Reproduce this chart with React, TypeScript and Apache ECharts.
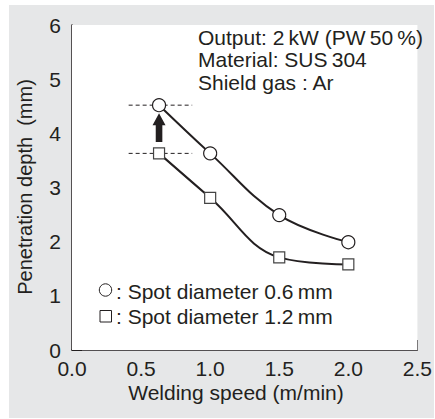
import React, { useEffect, useRef } from "react";
import * as echarts from "echarts";

const speeds = [0.63, 1.0, 1.5, 2.0];
const depthSpot06 = [4.52, 3.63, 2.49, 1.99];
const depthSpot12 = [3.63, 2.81, 1.71, 1.58];
const refLineX = [0.41, 0.87];
const arrowSpan = [0.63, 3.84, 4.37];
const xTicks = [0, 0.5, 1.0, 1.5, 2.0, 2.5];
const yTicks = [0, 1, 2, 3, 4, 5, 6];

const INK = "#231f20";
const FONT = "'Liberation Sans', Arial, Helvetica, sans-serif";

export default function App() {
  const ref = useRef<HTMLDivElement>(null);
  useEffect(() => {
    if (!ref.current) return;
    const chart = echarts.init(ref.current, undefined, { renderer: "svg" });
    const pts = (ys: number[]) => speeds.map((x, i) => [x, ys[i]]);
    const option: any = {
      animation: false,
      backgroundColor: "#ffffff",
      textStyle: { fontFamily: FONT, color: INK },
      grid: {
        left: 72,
        top: 25,
        right: 17,
        bottom: 69,
        show: true,
        backgroundColor: "#ffffff",
        borderWidth: 0,
        z: 1,
      },
      xAxis: {
        type: "value",
        min: xTicks[0],
        max: xTicks[xTicks.length - 1],
        interval: 0.5,
        axisLine: { show: true, onZero: false, lineStyle: { color: INK, width: 1.5 } },
        axisTick: { show: true, inside: true, length: 10, lineStyle: { color: INK, width: 1 } },
        splitLine: { show: false },
        axisLabel: {
          margin: 8,
          fontSize: 21,
          fontFamily: FONT,
          color: INK,
          formatter: (v: number) => v.toFixed(1),
        },
      },
      yAxis: {
        type: "value",
        min: yTicks[0],
        max: yTicks[yTicks.length - 1],
        interval: 1,
        axisLine: { show: true, onZero: false, lineStyle: { color: INK, width: 1.5 } },
        axisTick: { show: true, inside: true, length: 10, lineStyle: { color: INK, width: 1 } },
        splitLine: { show: false },
        axisLabel: { margin: 11, fontSize: 21, fontFamily: FONT, color: INK },
      },
      graphic: [
        {
          type: "rect",
          z: -100,
          shape: { x: 9, y: 5, width: 425, height: 413 },
          style: { fill: "#e6e7e8" },
          silent: true,
        },
        {
          type: "text",
          x: 236,
          y: 392,
          z: 10,
          style: { text: "Welding speed (m/min)", fill: INK, font: `21px ${FONT}`, align: "center", verticalAlign: "middle" },
        },
        {
          type: "text",
          x: 25,
          y: 187,
          rotation: Math.PI / 2,
          z: 10,
          style: { text: "Penetration depth  (mm)", fill: INK, font: `20px ${FONT}`, align: "center", verticalAlign: "middle" },
        },
        {
          type: "text",
          x: 198,
          y: 37,
          z: 10,
          style: { text: "Output: 2\u2009kW (PW\u200950\u2009%)", fill: INK, font: `21px ${FONT}`, align: "left", verticalAlign: "middle" },
        },
        {
          type: "text",
          x: 198,
          y: 59.5,
          z: 10,
          style: { text: "Material: SUS\u2009304", fill: INK, font: `21px ${FONT}`, align: "left", verticalAlign: "middle" },
        },
        {
          type: "text",
          x: 198,
          y: 82,
          z: 10,
          style: { text: "Shield gas : Ar", fill: INK, font: `21px ${FONT}`, align: "left", verticalAlign: "middle" },
        },
        {
          type: "circle",
          z: 10,
          shape: { cx: 105.5, cy: 290, r: 6.2 },
          style: { fill: "#fff", stroke: INK, lineWidth: 1 },
        },
        {
          type: "text",
          x: 116,
          y: 291,
          z: 10,
          style: { text: ": Spot diameter 0.6\u2009mm", fill: INK, font: `21px ${FONT}`, align: "left", verticalAlign: "middle" },
        },
        {
          type: "rect",
          z: 10,
          shape: { x: 100, y: 310.5, width: 11.5, height: 11.5 },
          style: { fill: "#fff", stroke: INK, lineWidth: 1 },
        },
        {
          type: "text",
          x: 116,
          y: 316,
          z: 10,
          style: { text: ": Spot diameter 1.2\u2009mm", fill: INK, font: `21px ${FONT}`, align: "left", verticalAlign: "middle" },
        },
      ],
      series: [
        {
          type: "line",
          z: 1,
          data: refLineX.map((x) => [x, depthSpot06[0]]),
          symbol: "none",
          lineStyle: { color: INK, width: 1, type: [4, 3] },
          silent: true,
        },
        {
          type: "line",
          z: 1,
          data: refLineX.map((x) => [x, depthSpot12[0]]),
          symbol: "none",
          lineStyle: { color: INK, width: 1, type: [4, 3] },
          silent: true,
        },
        {
          type: "line",
          z: 3,
          data: pts(depthSpot06),
          smooth: 0.4,
          symbol: "circle",
          symbolSize: 13,
          showAllSymbol: true,
          lineStyle: { color: INK, width: 2 },
          itemStyle: { color: "#fff", borderColor: INK, borderWidth: 1.2 },
        },
        {
          type: "line",
          z: 3,
          data: pts(depthSpot12),
          smooth: 0.4,
          symbol: "rect",
          symbolSize: 11,
          showAllSymbol: true,
          lineStyle: { color: INK, width: 2 },
          itemStyle: { color: "#fff", borderColor: "#444", borderWidth: 1.2 },
        },
        {
          type: "custom",
          z: 4,
          data: [arrowSpan],
          renderItem: (_p: any, api: any) => {
            const x = api.value(0);
            const base = api.coord([x, api.value(1)]);
            const tip = api.coord([x, api.value(2)]);
            const headH = 12;
            const headW = 6.5;
            const shaftW = 3.3;
            const cx = base[0];
            const neck = tip[1] + headH;
            return {
              type: "polygon",
              shape: {
                points: [
                  [cx - shaftW, base[1]],
                  [cx - shaftW, neck],
                  [cx - headW, neck],
                  [cx, tip[1]],
                  [cx + headW, neck],
                  [cx + shaftW, neck],
                  [cx + shaftW, base[1]],
                ],
              },
              style: { fill: INK },
            };
          },
        },
      ],
    };
    chart.setOption(option);
    return () => chart.dispose();
  }, []);
  return (
    <div
      ref={ref}
      style={{ position: "absolute", left: 0, top: 0, width: 435, height: 419 }}
    />
  );
}
